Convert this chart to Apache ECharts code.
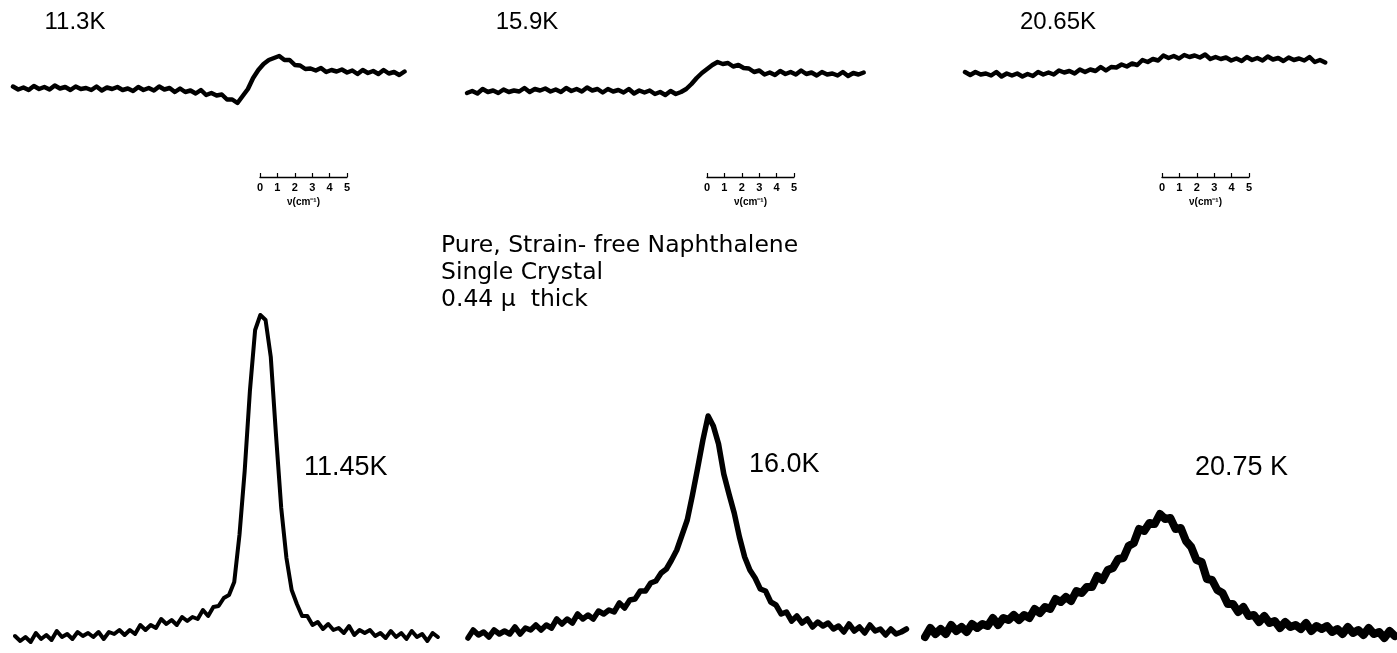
<!DOCTYPE html>
<html>
<head>
<meta charset="utf-8">
<script src="https://cdn.jsdelivr.net/npm/echarts@6/dist/echarts.min.js"></script>
<style>
  html, body { margin: 0; padding: 0; background: #fff; }
  #chart { width: 1397px; height: 653px; }
</style>
</head>
<body>
<div id="chart"></div>
<script>
// Spectra are sampled every 0.3 cm^-1 (frequency offset from the start of each sweep).
const STEP = 0.3;

// Upper row: derivative-like traces
const upper_11_3K = [2.35,2.05,2.25,2.0,2.4,2.1,2.3,2.05,2.45,2.15,
  2.3,2.0,2.35,2.1,2.2,2.0,2.35,1.95,2.25,2.1,
  2.3,2.0,2.15,1.9,2.3,2.0,2.2,1.95,2.35,2.05,
  2.2,1.8,2.15,1.8,1.95,1.65,2.0,1.5,1.7,1.45,
  1.55,1.05,1.05,0.7,1.4,2.1,3.2,4.0,4.6,5.0,
  5.2,5.4,5.0,5.0,4.5,4.45,4.1,4.15,3.95,4.2,
  3.8,4.0,3.85,4.05,3.75,3.95,3.6,4.0,3.7,3.9,
  3.6,4.0,3.65,3.8,3.5,3.85];
const upper_15_9K = [1.7,1.9,1.65,2.1,1.8,1.95,1.7,2.05,1.8,1.95,
  1.85,2.2,1.8,2.1,1.95,2.15,1.85,2.05,1.8,2.2,
  1.9,2.1,1.85,2.25,1.95,2.1,1.75,2.1,1.85,2.0,
  1.75,2.1,1.65,1.95,1.75,1.95,1.6,1.8,1.5,1.9,
  1.6,1.8,2.1,2.6,3.2,3.7,4.1,4.5,4.8,4.6,
  4.7,4.35,4.5,4.2,4.15,3.8,3.95,3.55,3.75,3.5,
  3.9,3.6,3.8,3.55,3.95,3.6,3.75,3.45,3.8,3.55,
  3.65,3.45,3.8,3.4,3.7,3.55,3.75];
const upper_20_65K = [3.8,3.5,3.8,3.55,3.65,3.45,3.8,3.35,3.65,3.45,
  3.65,3.35,3.6,3.4,3.8,3.55,3.75,3.55,3.95,3.75,
  3.9,3.65,4.05,3.8,4.05,3.9,4.3,3.95,4.3,4.25,
  4.55,4.35,4.65,4.5,5.0,4.8,5.1,4.95,5.45,5.2,
  5.4,5.15,5.5,5.3,5.45,5.25,5.55,5.1,5.3,5.1,
  5.25,4.95,5.15,4.9,5.3,5.0,5.2,4.95,5.35,5.05,
  5.2,4.9,5.25,5.0,5.15,4.95,5.3,4.8,5.0,4.75];

// Lower row: absorption peaks
const lower_11_45K = [1.4,0.9,1.3,0.8,1.7,1.1,1.5,1.0,1.9,1.3,
  1.6,1.1,1.8,1.4,1.7,1.3,1.8,1.1,1.8,1.6,
  2.0,1.5,2.0,1.6,2.5,2.0,2.5,2.2,3.1,2.6,
  3.0,2.5,3.3,2.9,3.3,3.1,4.0,3.4,4.3,4.4,
  5.2,5.5,6.8,11.5,17.9,25.9,32.0,33.5,33.0,29.3,
  21.5,14.2,9.2,6.0,4.6,3.4,3.4,2.5,2.8,2.1,
  2.6,2.0,2.2,1.7,2.4,1.5,2.0,1.7,2.0,1.4,
  1.7,1.2,1.9,1.3,1.7,1.1,1.9,1.3,1.6,0.9,
  1.7,1.3];
const lower_16_0K = [1.2,2.0,1.5,1.8,1.3,2.0,1.6,1.9,1.6,2.3,
  1.6,2.2,2.0,2.5,2.0,2.5,2.2,3.1,2.6,3.1,
  2.7,3.6,3.1,3.5,3.1,3.9,3.6,4.0,3.8,4.7,
  4.2,5.0,5.1,5.9,5.9,6.7,6.9,7.7,8.1,9.0,
  10.0,11.5,13.0,15.5,18.2,21.0,23.4,22.4,20.6,17.6,
  15.6,13.7,11.3,9.3,8.0,7.2,6.1,5.9,4.8,4.5,
  3.6,3.8,2.9,3.4,2.7,3.1,2.3,2.8,2.4,2.7,
  2.1,2.4,1.8,2.6,1.9,2.3,1.7,2.5,1.9,2.1,
  1.5,2.1,1.6,1.8,2.1];
const lower_20_75K = [1.3,2.2,1.6,2.1,1.6,2.5,1.9,2.3,1.8,2.6,
  2.2,2.6,2.4,3.2,2.5,3.2,3.0,3.5,3.0,3.5,
  3.2,4.1,3.7,4.3,4.1,5.1,4.8,5.3,4.9,5.9,
  5.7,6.3,6.3,7.4,7.0,8.0,8.2,9.1,9.2,10.4,
  10.7,12.1,11.9,12.7,12.6,13.6,13.1,13.2,12.1,12.2,
  10.9,10.3,9.0,8.8,7.1,7.0,6.0,5.7,4.6,4.6,
  3.8,4.3,3.4,3.5,2.8,3.4,2.7,2.9,2.2,2.8,
  2.3,2.5,2.1,2.7,1.9,2.4,2.1,2.4,1.8,2.1,
  1.6,2.3,1.7,2.0,1.5,2.2,1.6,1.8,1.2,1.9,
  1.4];

const upperLabels = ['11.3K', '15.9K', '20.65K'];
const lowerLabels = ['11.45K', '16.0K', '20.75 K'];
const scaleTicks = [0, 1, 2, 3, 4, 5];
const scaleName = 'ν(cm⁻¹)';
const noteLines = ['Pure, Strain- free Naphthalene', 'Single Crystal', '0.44 μ  thick'];

// ---- layout ----
const PX_PER_CM = 17.4;
const FONT = '"Liberation Sans", Arial, sans-serif';
const WIDE_FONT = '"DejaVu Sans", "Liberation Sans", sans-serif';
const rows = {
  upper: { top: 40, height: 70, yMax: 7 },
  lower: { top: 300, height: 350, yMax: 35 }
};
const panels = [
  { data: upper_11_3K, row: 'upper', left: 13, lw: 4.5 },
  { data: upper_15_9K, row: 'upper', left: 467, lw: 4.5 },
  { data: upper_20_65K, row: 'upper', left: 965, lw: 4.5 },
  { data: lower_11_45K, row: 'lower', left: 15, lw: 4 },
  { data: lower_16_0K, row: 'lower', left: 468, lw: 5.5 },
  { data: lower_20_75K, row: 'lower', left: 925, lw: 8 }
];
const scaleBarLefts = [260, 707, 1162];

const grids = [], xAxes = [], yAxes = [], series = [];

panels.forEach((p, k) => {
  const r = rows[p.row];
  const xMax = +((p.data.length - 1) * STEP).toFixed(2);
  grids.push({ left: p.left, top: r.top, width: xMax * PX_PER_CM, height: r.height });
  xAxes.push({ gridIndex: k, type: 'value', min: 0, max: xMax, show: false });
  yAxes.push({ gridIndex: k, type: 'value', min: 0, max: r.yMax, show: false });
  series.push({
    type: 'line', xAxisIndex: k, yAxisIndex: k,
    data: p.data.map((v, i) => [+(i * STEP).toFixed(2), v]),
    showSymbol: false, silent: true, animation: false, clip: false,
    lineStyle: { color: '#000', width: p.lw, join: 'round', cap: 'round' }
  });
});

// Frequency scale bars (0–5 cm^-1) under each upper trace
scaleBarLefts.forEach((left) => {
  const k = grids.length;
  grids.push({ left: left, top: 150, width: 5 * PX_PER_CM, height: 27 });
  xAxes.push({
    gridIndex: k, type: 'value', position: 'bottom',
    min: scaleTicks[0], max: scaleTicks[scaleTicks.length - 1], interval: 1,
    axisLine: { show: true, onZero: false, lineStyle: { color: '#000', width: 1.3 } },
    axisTick: { show: true, inside: true, length: 4, lineStyle: { color: '#000', width: 1.2 } },
    axisLabel: { color: '#000', fontSize: 11, fontWeight: 'bold', margin: 5, fontFamily: FONT },
    splitLine: { show: false },
    name: scaleName, nameLocation: 'middle', nameGap: 20,
    nameTextStyle: { color: '#000', fontSize: 10, fontWeight: 'bold', fontFamily: FONT }
  });
  yAxes.push({ gridIndex: k, type: 'value', min: 0, max: 1, show: false });
  series.push({ type: 'line', xAxisIndex: k, yAxisIndex: k, data: [], silent: true });
});

// Text labels
const graphics = [];
const upperLabelPos = [[75, 22], [527, 22], [1058, 22]];
upperLabels.forEach((t, i) => graphics.push({
  type: 'text', x: upperLabelPos[i][0], y: upperLabelPos[i][1],
  style: { text: t, fill: '#000', fontSize: 24, fontFamily: FONT, align: 'center', verticalAlign: 'middle' }
}));
const lowerLabelPos = [[304, 468], [749, 465], [1195, 468]];
lowerLabels.forEach((t, i) => graphics.push({
  type: 'text', x: lowerLabelPos[i][0], y: lowerLabelPos[i][1],
  style: { text: t, fill: '#000', fontSize: 27, fontFamily: FONT, align: 'left', verticalAlign: 'middle' }
}));
noteLines.forEach((t, i) => graphics.push({
  type: 'text', x: 441, y: 246 + i * 27,
  style: { text: t, fill: '#000', fontSize: 23.5, fontFamily: WIDE_FONT, align: 'left', verticalAlign: 'middle' }
}));

const chart = echarts.init(document.getElementById('chart'), null, { renderer: 'canvas' });
chart.setOption({
  backgroundColor: '#fff',
  animation: false,
  grid: grids,
  xAxis: xAxes,
  yAxis: yAxes,
  series: series,
  graphic: graphics
});
</script>
</body>
</html>
